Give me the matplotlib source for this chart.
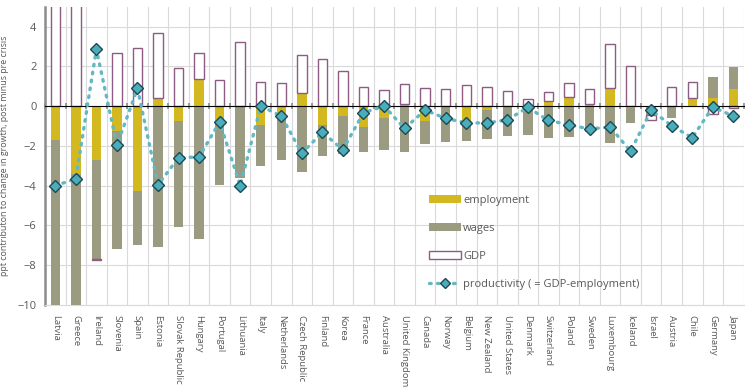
import numpy as np
import matplotlib
matplotlib.use("Agg")
import matplotlib.pyplot as plt
from matplotlib.patches import Patch
from matplotlib.lines import Line2D

countries = ["Latvia", "Greece", "Ireland", "Slovenia", "Spain", "Estonia", "Slovak Republic",
             "Hungary", "Portugal", "Lithuania", "Italy", "Netherlands", "Czech Republic",
             "Finland", "Korea", "France", "Australia", "United Kingdom", "Canada", "Norway",
             "Belgium", "New Zealand", "United States", "Denmark", "Switzerland", "Poland",
             "Sweden", "Luxembourg", "Iceland", "Israel", "Austria", "Chile", "Germany", "Japan"]

employment = [-1.7, -3.4, -2.7, -1.25, -4.25, 0.4, -0.75, 1.37, -0.78, -0.05, -0.94, -0.52,
              0.65, -0.94, -0.48, -1.07, -0.62, 0.12, -0.77, -0.05, -0.75, -0.22, -0.05,
              -0.03, 0.25, 0.48, 0.13, 0.92, -0.12, -0.05, -0.03, 0.4, 0.42, 0.85]

wages = [-9.0, -8.0, -5.0, -5.96, -2.75, -7.1, -5.35, -6.67, -3.2, -3.55, -2.06, -2.21,
         -3.33, -1.55, -1.93, -1.22, -1.59, -2.29, -1.15, -1.76, -1.02, -1.45, -1.43,
         -1.4, -1.6, -1.57, -1.32, -1.87, -0.75, -0.4, -0.55, 0.0, 1.05, 1.14]

gdp = [7.0, 7.0, -0.06, 2.69, 2.94, 3.3, 1.9, 1.29, 1.3, 3.21, 1.22, 1.15, 1.93, 2.39,
       1.77, 0.95, 0.8, 0.98, 0.9, 0.85, 1.07, 0.95, 0.74, 0.38, 0.45, 0.67, 0.72, 2.19,
       2.02, -0.25, 0.95, 0.8, -0.4, -0.1]

productivity = [-4.0, -3.66, 2.86, -1.97, 0.89, -3.96, -2.59, -2.56, -0.79, -4.0, 0.0, -0.5,
                -2.37, -1.32, -2.19, -0.33, 0.0, -1.12, -0.2, -0.62, -0.84, -0.85, -0.69,
                -0.07, -0.72, -0.94, -1.15, -1.05, -2.27, -0.2, -0.99, -1.59, -0.05, -0.5]

plt.rcParams['font.family'] = ['Open Sans', 'DejaVu Sans']
txt = '#595959'

fig = plt.figure(figsize=(7.5, 3.92), dpi=100)
ax = fig.add_axes([0.06, 0.222, 0.9315, 0.761])

YMIN, YMAX = -10, 5
x = np.arange(len(countries))
w = 0.46

pos_base = np.zeros(len(x))
neg_base = np.zeros(len(x))
series = [(employment, dict(color='#D4B81F', edgecolor='none')),
          (wages, dict(color='#9A9B80', edgecolor='none')),
          (gdp, dict(facecolor='white', edgecolor='#8E5B82', linewidth=1.0))]
for vals, style in series:
    v = np.array(vals, dtype=float)
    bottom = np.where(v >= 0, pos_base, neg_base)
    ax.bar(x, v, w, bottom=bottom, zorder=3, **style)
    pos_base = pos_base + np.where(v >= 0, v, 0)
    neg_base = neg_base + np.where(v < 0, v, 0)

ax.plot(x, productivity, linestyle=(0, (0.5, 1.9)), dash_capstyle='round', color='#62B8C3',
        linewidth=2.4, marker='D', markersize=6.5, markerfacecolor='#4AADBB',
        markeredgecolor='#1D4A52', markeredgewidth=1.0, zorder=5)

ax.set_xlim(-0.5, len(x) - 0.5)
ax.set_ylim(YMIN, YMAX)
ax.set_yticks(np.arange(-10, 5, 2))
ax.set_xticks(x)
ax.set_xticklabels(countries, rotation=270, fontsize=6.8, color=txt)
ax.tick_params(axis='x', length=0, pad=7)
ax.tick_params(axis='y', length=0, labelsize=8, labelcolor=txt, pad=6)
ax.set_xticks(np.arange(-0.5, len(x), 1), minor=True)
ax.tick_params(axis='x', which='minor', length=0)
ax.grid(True, which='minor', axis='x', color='#DADADA', linewidth=0.8, zorder=0)
ax.grid(True, which='major', axis='y', color='#DADADA', linewidth=0.8, zorder=0)
ax.set_axisbelow(True)

for s in ['top', 'right']:
    ax.spines[s].set_visible(False)
ax.spines['bottom'].set_color('#DADADA')
ax.spines['left'].set_color('#8C8C8C')
ax.spines['left'].set_linewidth(1.8)

# zero axis line with category boundary ticks
frac0 = (0 - YMIN) / (YMAX - YMIN)
sec = ax.secondary_xaxis(frac0)
sec.set_xticks(np.arange(-0.5, len(x), 1))
sec.tick_params(axis='x', direction='inout', length=4, width=1.2, color='#8C8C8C', labelbottom=False, labeltop=False)
sec.spines['bottom'].set_color('#8C8C8C')
sec.spines['bottom'].set_linewidth(2.0)
sec.spines['bottom'].set_zorder(4)
sec.set_zorder(4)

ax.set_ylabel('ppt contributon to change in growth, post minus pre crisis', fontsize=6.4,
              color=txt, labelpad=6)

handles = [Patch(facecolor='#D4B81F', edgecolor='none', label='employment'),
           Patch(facecolor='#9A9B80', edgecolor='none', label='wages'),
           Patch(facecolor='white', edgecolor='#8E5B82', linewidth=1.0, label='GDP'),
           Line2D([], [], linestyle=(0, (0.5, 1.9)), dash_capstyle='round', color='#62B8C3',
                  linewidth=2.4, marker='D', markersize=5.5, markerfacecolor='#4AADBB',
                  markeredgecolor='#1D4A52', label='productivity ( = GDP-employment)')]
leg = ax.legend(handles=handles, loc='upper left', bbox_to_anchor=(0.543, 0.385),
                frameon=False, fontsize=8, handlelength=2.9, handletextpad=0.2,
                labelspacing=1.55, borderaxespad=0)
for t in leg.get_texts():
    t.set_color(txt)

fig.savefig('out.png', dpi=100)
